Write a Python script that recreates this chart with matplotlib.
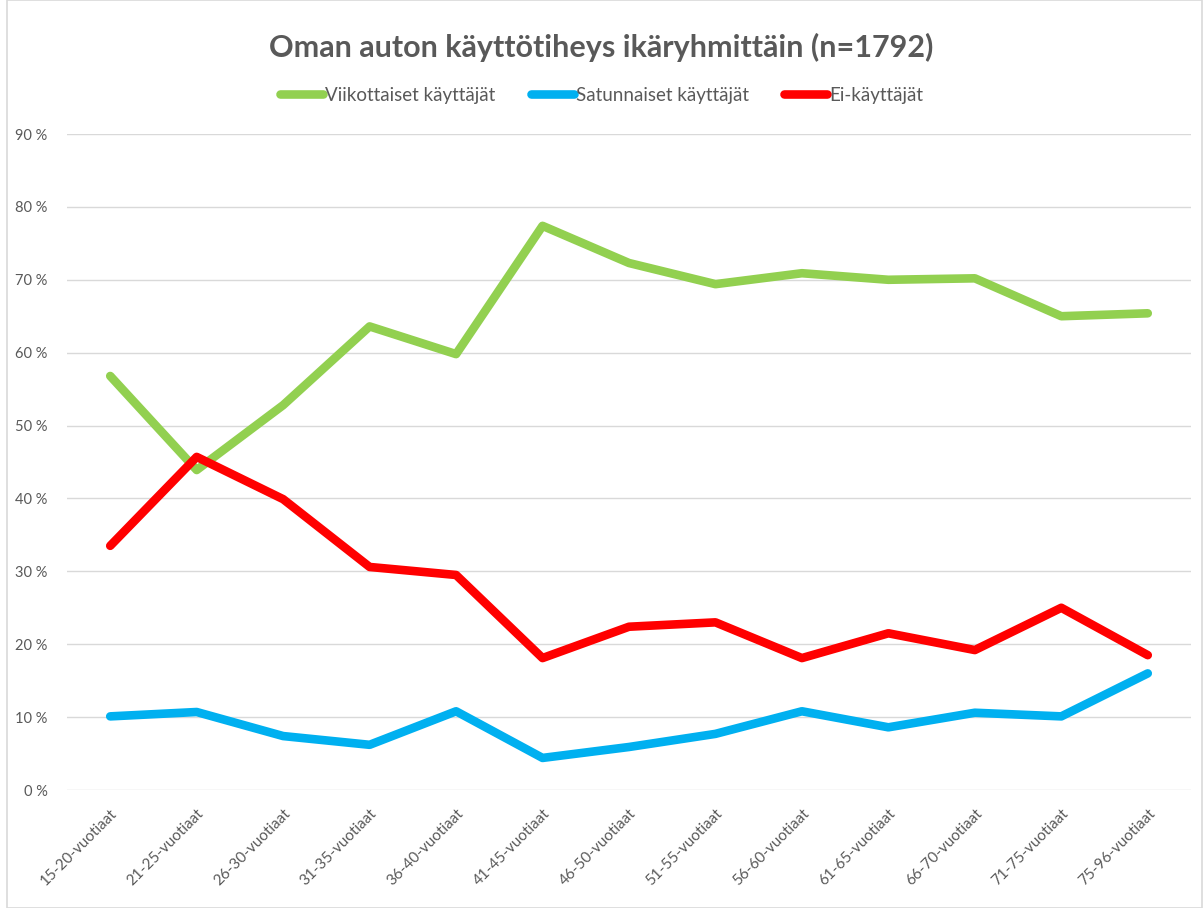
import matplotlib
matplotlib.use("Agg")
import matplotlib.pyplot as plt
from matplotlib.patches import Rectangle
from matplotlib.ticker import FuncFormatter

categories = ["15-20-vuotiaat", "21-25-vuotiaat", "26-30-vuotiaat", "31-35-vuotiaat",
              "36-40-vuotiaat", "41-45-vuotiaat", "46-50-vuotiaat", "51-55-vuotiaat",
              "56-60-vuotiaat", "61-65-vuotiaat", "66-70-vuotiaat", "71-75-vuotiaat",
              "75-96-vuotiaat"]
viikottaiset = [56.8, 43.9, 52.8, 63.6, 59.8, 77.4, 72.3, 69.4, 70.9, 70.0, 70.2, 65.0, 65.4]
satunnaiset = [10.1, 10.7, 7.4, 6.2, 10.8, 4.4, 5.9, 7.7, 10.8, 8.6, 10.6, 10.1, 16.0]
ei_kayttajat = [33.5, 45.7, 39.9, 30.6, 29.5, 18.1, 22.4, 23.0, 18.1, 21.5, 19.2, 25.0, 18.5]
series_names = ["Viikottaiset käyttäjät", "Satunnaiset käyttäjät", "Ei-käyttäjät"]
colors = ["#92D050", "#00B0F0", "#FF0000"]
title = "Oman auton käyttötiheys ikäryhmittäin (n=1792)"

plt.rcParams['font.family'] = ['Lato', 'DejaVu Sans']
W, H = 1203, 908
fig = plt.figure(figsize=(W / 100, H / 100), dpi=100)
ax = fig.add_axes([67 / W, 1 - 790 / H, (1191 - 67) / W, (790 - 134) / H])

x = list(range(len(categories)))
for vals, name, c in zip([viikottaiset, satunnaiset, ei_kayttajat], series_names, colors):
    ax.plot(x, vals, color=c, lw=6.2, label=name, solid_capstyle='round', solid_joinstyle='round')

ax.set_xlim(-0.5, len(categories) - 0.5)
ax.set_ylim(0, 90)
ax.set_yticks(range(0, 91, 10))
ax.yaxis.set_major_formatter(FuncFormatter(lambda v, p: f"{int(v)} %"))
ax.grid(axis='y', color='#D9D9D9', lw=1)
ax.set_axisbelow(True)
for s in ax.spines.values():
    s.set_visible(False)
ax.tick_params(axis='both', length=0, colors='#595959')
ax.tick_params(axis='y', pad=14, labelsize=10.5)
ax.set_xticks(x)
ax.set_xticklabels(categories, rotation=45, ha='right', va='top', rotation_mode='anchor', fontsize=11)
ax.tick_params(axis='x', pad=12)

fig.text(0.5, 1 - 47 / H, title, ha='center', va='center', fontsize=22, fontweight='bold', color='#595959')
leg = fig.legend(loc='center', bbox_to_anchor=(0.5, 1 - 95 / H), ncol=3, frameon=False,
                 fontsize=13.5, handlelength=2.3, columnspacing=1.9, handletextpad=0.1,
                 labelcolor='#595959')

fig.patches.append(Rectangle((7 / W, 0), 1 - 8 / W, 1, transform=fig.transFigure,
                             fill=False, edgecolor='#D9D9D9', lw=1.2))
fig.savefig("out.png", dpi=100)
